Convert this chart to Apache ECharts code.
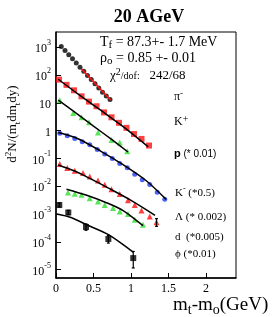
<!DOCTYPE html>
<html><head><meta charset="utf-8">
<script src="https://cdn.jsdelivr.net/npm/echarts@6/dist/echarts.min.js"></script>
<style>html,body{margin:0;padding:0;background:#fff}#c{width:273px;height:317px}</style>
</head><body><div id="c"></div>
<script>
// ---- data (x = mt - m0 in GeV, y = d2N/(mt dmt dy)) ----
const xTicks = [0, 0.5, 1, 1.5, 2];
const yTickExponents = [-5, -4, -3, -2, -1, 0, 1, 2, 3];

const piMinus = [[0.07,1050],[0.12,750],[0.17,530],[0.22,380],[0.27,270],[0.32,190],[0.37,135],[0.42,95],[0.47,68],[0.52,48],[0.57,34],[0.62,24],[0.67,17.5],[0.72,13]];
const piMinusFit = [[0.34,165],[0.45,80],[0.55,41],[0.65,21.2],[0.73,12.5]];

const kPlus = [[0.04,68],[0.14,44],[0.24,28],[0.34,17],[0.44,11],[0.54,7.5],[0.64,4.5],[0.74,3.0],[0.84,1.9],[0.94,1.25],[1.04,0.75],[1.14,0.5],[1.24,0.29]];
const kPlusFit = [[0.03,70],[0.3,20],[0.6,5.3],[0.9,1.35],[1.23,0.26]];

const proton = [[0.05,12.4],[0.23,4.3],[0.34,3.0],[0.44,2.0],[0.56,0.85],[0.74,0.46],[0.85,0.37],[0.95,0.18]];
const protonFit = [[0.03,12.5],[0.25,4.6],[0.5,1.45],[0.75,0.46],[0.96,0.17]];

const kMinus = [[0.05,0.8],[0.15,0.65],[0.25,0.52],[0.35,0.4],[0.45,0.31],[0.55,0.21],[0.65,0.145],[0.75,0.10],[0.85,0.066],[0.95,0.046],[1.05,0.027],[1.15,0.017],[1.25,0.0115],[1.35,0.006],[1.45,0.0034]];
const kMinusFit = [[0.03,0.85],[0.3,0.5],[0.6,0.18],[0.9,0.058],[1.2,0.016],[1.47,0.0033]];

const lambda = [[0.05,0.063],[0.15,0.045],[0.25,0.036],[0.36,0.030],[0.45,0.0225],[0.56,0.016],[0.65,0.0112],[0.74,0.0078],[0.85,0.0052],[0.96,0.0031],[1.05,0.0021],[1.14,0.00135],[1.25,0.00081],[1.34,0.00051]];
const lambdaFit = [[0.03,0.058],[0.25,0.035],[0.45,0.019],[0.7,0.0085],[1.0,0.0031],[1.32,0.0009]];
const lambdaErr = [[1.34,0.00036,0.00068]];

const deuteron = [[0.16,0.0059],[0.25,0.0053],[0.34,0.0049],[0.45,0.0037],[0.56,0.0028],[0.65,0.0021],[0.76,0.00166],[0.85,0.00123],[0.96,0.001],[1.05,0.00062],[1.16,0.00041]];
const deuteronFit = [[0.14,0.0078],[0.4,0.0048],[0.68,0.0025],[0.9,0.0013],[1.16,0.00038]];

const phi = [[0.044,0.0021],[0.164,0.00113],[0.40,0.00034],[0.698,0.000126],[1.03,0.000026]];
const phiFit = [[0.01,0.001],[0.2,0.00075],[0.4,0.00042],[0.7,0.00018],[1.03,0.000042]];
const phiErr = [[0.044,0.0018,0.0025],[0.164,0.00095,0.00135],[0.40,0.00026,0.00044],[0.698,0.00009,0.00017],[1.03,0.0000115,0.000045]];

const RED = '#ff1010', GREEN = '#2ee02e', BLUE = '#1f3cf0', BLACK = '#000';
const SERIF = '"Liberation Serif", "DejaVu Serif", serif';

function scatter(data, symbol, color, size) {
  return { type: 'scatter', data, symbol, symbolSize: size, itemStyle: { color }, z: 3, silent: true };
}
function fit(data, color) {
  return { type: 'line', data, showSymbol: false, smooth: 0.3, lineStyle: { color, width: 1.5 }, z: 4, silent: true };
}
function errBars(data) {
  return {
    type: 'custom', data, encode: { x: 0, y: [1, 2] }, z: 5, silent: true,
    renderItem: function (params, api) {
      const x = api.value(0);
      const p1 = api.coord([x, api.value(1)]);
      const p2 = api.coord([x, api.value(2)]);
      const st = { stroke: '#000', lineWidth: 1.2 };
      return { type: 'group', children: [
        { type: 'line', shape: { x1: p1[0], y1: p1[1], x2: p2[0], y2: p2[1] }, style: st },
        { type: 'line', shape: { x1: p1[0] - 1.5, y1: p1[1], x2: p1[0] + 1.5, y2: p1[1] }, style: st },
        { type: 'line', shape: { x1: p2[0] - 1.5, y1: p2[1], x2: p2[0] + 1.5, y2: p2[1] }, style: st }
      ]};
    }
  };
}

const chart = echarts.init(document.getElementById('c'), null, { renderer: 'canvas' });
chart.setOption({
  animation: false,
  backgroundColor: '#fff',
  title: {
    text: '20 AGeV', left: 144, top: 3, textAlign: 'center',
    textStyle: { fontFamily: SERIF, fontWeight: 'bold', fontSize: 18, color: '#000' }
  },
  grid: { left: 56, right: 37, top: 32, bottom: 39, show: true, borderColor: '#000', borderWidth: 1, backgroundColor: 'transparent' },
  xAxis: {
    type: 'value', min: 0, max: 2.4, interval: 0.5,
    axisLine: { lineStyle: { color: '#000', width: 1.5 } },
    axisTick: { inside: true, length: 5, lineStyle: { color: '#000', width: 1 } },
    axisLabel: { showMaxLabel: false, color: '#000', fontFamily: SERIF, fontSize: 12, margin: 5,
      formatter: v => xTicks.indexOf(v) >= 0 ? String(v) : '' },
    splitLine: { show: false }
  },
  yAxis: {
    type: 'log', logBase: 10, min: 5e-6, max: 3500, splitNumber: 10,
    axisLine: { lineStyle: { color: '#000', width: 1.5 } },
    axisTick: { inside: true, length: 5, lineStyle: { color: '#000', width: 1 } },
    axisLabel: {
      showMinLabel: false, showMaxLabel: false, margin: 5, color: '#000', fontFamily: SERIF, fontSize: 12,
      formatter: function (v) {
        const e = Math.round(Math.log10(v));
        if (yTickExponents.indexOf(e) < 0) return '';
        if (e === 0) return '{b|1}';
        if (e === 1) return '{b|10}';
        return '{b|10}{s|' + e + '}';
      },
      rich: {
        b: { fontFamily: SERIF, fontSize: 12, lineHeight: 16, verticalAlign: 'bottom', color: '#000' },
        s: { fontFamily: SERIF, fontSize: 8, lineHeight: 16, verticalAlign: 'top', color: '#000' }
      }
    },
    splitLine: { show: false }
  },
  graphic: [
    { type: 'text', x: 13, y: 124, rotation: Math.PI / 2, style: {
      text: '{a|d}{s|2}{a|N/(m}{u|t}{a|dm}{u|t}{a|dy)}', align: 'center', verticalAlign: 'middle',
      rich: {
        a: { fontFamily: SERIF, fontSize: 13, lineHeight: 18, verticalAlign: 'middle', fill: '#000' },
        s: { fontFamily: SERIF, fontSize: 9, lineHeight: 18, verticalAlign: 'top', fill: '#000' },
        u: { fontFamily: SERIF, fontSize: 9, lineHeight: 18, verticalAlign: 'bottom', fill: '#000' }
      } } },
    { type: 'text', x: 173, y: 305, style: {
      text: '{a|m}{u|t}{a|-m}{u|o}{a|(GeV)}', verticalAlign: 'middle',
      rich: {
        a: { fontFamily: SERIF, fontSize: 19, lineHeight: 24, verticalAlign: 'middle', fill: '#000' },
        u: { fontFamily: SERIF, fontSize: 14, lineHeight: 24, verticalAlign: 'bottom', fill: '#000' }
      } } },
    { type: 'text', x: 100, y: 42, style: {
      text: '{a|T}{u|f}{a| = 87.3+- 1.7 MeV}', verticalAlign: 'middle',
      rich: {
        a: { fontFamily: SERIF, fontSize: 14, lineHeight: 18, verticalAlign: 'middle', fill: '#000' },
        u: { fontFamily: SERIF, fontSize: 11, lineHeight: 18, verticalAlign: 'bottom', fill: '#000' }
      } } },
    { type: 'text', x: 100, y: 58, style: {
      text: '{a|ρ}{u|o}{a| = 0.85 +- 0.01}', verticalAlign: 'middle',
      rich: {
        a: { fontFamily: SERIF, fontSize: 14, lineHeight: 18, verticalAlign: 'middle', fill: '#000' },
        u: { fontFamily: SERIF, fontSize: 11, lineHeight: 18, verticalAlign: 'bottom', fill: '#000' }
      } } },
    { type: 'text', x: 110, y: 76, style: {
      text: '{a|χ}{s|2}{d|/dof:}{a|   242/68}', verticalAlign: 'middle',
      rich: {
        a: { fontFamily: SERIF, fontSize: 13, lineHeight: 18, verticalAlign: 'middle', fill: '#000' },
        s: { fontFamily: SERIF, fontSize: 10, lineHeight: 18, verticalAlign: 'top', fill: '#000' },
        d: { fontFamily: SERIF, fontSize: 10, lineHeight: 18, verticalAlign: 'middle', fill: '#000' }
      } } },
    { type: 'text', x: 174, y: 97, style: {
      text: '{a|π}{s|-}', verticalAlign: 'middle',
      rich: { a: { fontFamily: SERIF, fontSize: 12, lineHeight: 16, verticalAlign: 'middle', fill: '#000' },
              s: { fontFamily: SERIF, fontSize: 9, lineHeight: 16, verticalAlign: 'top', fill: '#000' } } } },
    { type: 'text', x: 174, y: 122, style: {
      text: '{a|K}{s|+}', verticalAlign: 'middle',
      rich: { a: { fontFamily: SERIF, fontSize: 12, lineHeight: 16, verticalAlign: 'middle', fill: '#000' },
              s: { fontFamily: SERIF, fontSize: 10, lineHeight: 16, verticalAlign: 'top', fill: '#000' } } } },
    { type: 'text', x: 174, y: 154, style: {
      text: '{p|p}{a| (* 0.01)}', verticalAlign: 'middle',
      rich: { p: { fontFamily: '"Liberation Sans", sans-serif', fontWeight: 'bold', fontSize: 11, fill: '#000' },
              a: { fontFamily: '"Liberation Sans", sans-serif', fontSize: 10, fill: '#000' } } } },
    { type: 'text', x: 175, y: 193, style: {
      text: '{a|K}{s|-}{a| (*0.5)}', verticalAlign: 'middle',
      rich: { a: { fontFamily: SERIF, fontSize: 11, lineHeight: 16, verticalAlign: 'middle', fill: '#000' },
              s: { fontFamily: SERIF, fontSize: 8, lineHeight: 16, verticalAlign: 'top', fill: '#000' } } } },
    { type: 'text', x: 175, y: 217, style: { text: 'Λ (* 0.002)', verticalAlign: 'middle', font: '11px ' + SERIF, fill: '#000' } },
    { type: 'text', x: 175, y: 237, style: { text: 'd  (*0.005)', verticalAlign: 'middle', font: '11px ' + SERIF, fill: '#000' } },
    { type: 'text', x: 175, y: 254, style: { text: 'ϕ (*0.01)', verticalAlign: 'middle', font: '11px ' + SERIF, fill: '#000' } }
  ],
  series: [
    scatter(piMinus, 'circle', BLACK, 5),
    fit(piMinusFit, RED),
    scatter(kPlus, 'rect', RED, 6),
    fit(kPlusFit, BLACK),
    scatter(proton, 'triangle', GREEN, 6),
    fit(protonFit, BLACK),
    scatter(kMinus, 'circle', BLUE, 5),
    fit(kMinusFit, BLACK),
    scatter(lambda, 'triangle', RED, 6),
    fit(lambdaFit, BLACK),
    errBars(lambdaErr),
    scatter(deuteron, 'triangle', GREEN, 6),
    fit(deuteronFit, BLACK),
    scatter(phi, 'rect', BLACK, 6),
    fit(phiFit, BLACK),
    errBars(phiErr)
  ]
});
</script>
</body></html>
